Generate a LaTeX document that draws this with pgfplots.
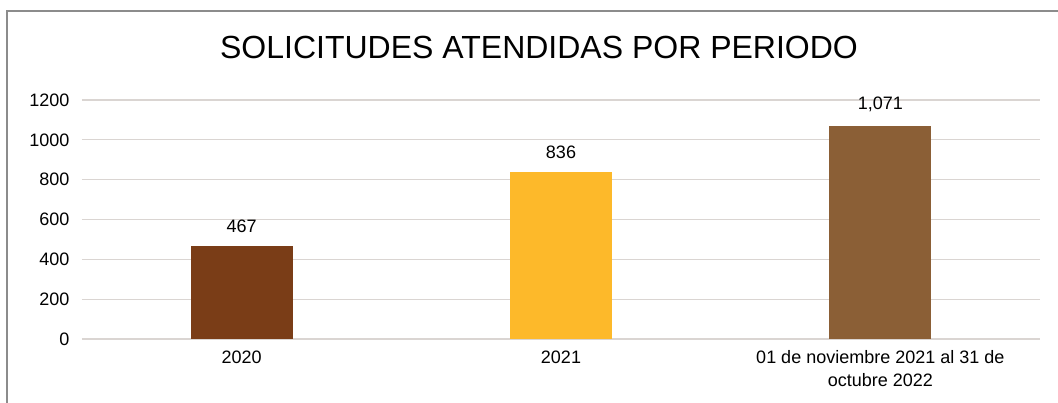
\documentclass[border=0pt]{standalone}
\usepackage{fontspec}
\setmainfont{Liberation Sans}
\usepackage{pgfplots}
\pgfplotsset{compat=1.18}
\definecolor{bara}{HTML}{7A3D17}
\definecolor{barb}{HTML}{FDB92A}
\definecolor{barc}{HTML}{8B5F36}
\definecolor{gridc}{HTML}{DAD5D2}
\definecolor{framec}{HTML}{8C8C8C}
\begin{document}
\begin{tikzpicture}
\useasboundingbox (-82pt,-64pt) rectangle (976pt,339pt);
\begin{axis}[
  scale only axis,
  width=958pt, height=239pt,
  ybar, bar width=102pt, bar shift=0pt,
  xmin=-0.5, xmax=2.5,
  ymin=0, ymax=1200,
  ytick={0,200,...,1200},
  xtick={0,1,2},
  xticklabels={2020,2021,{01 de noviembre 2021 al 31 de\\octubre 2022}},
  x tick label style={align=center, font=\fontsize{18}{23}\selectfont, yshift=-8pt},
  y tick label style={font=\fontsize{18}{21}\selectfont, xshift=-9pt,
    /pgf/number format/1000 sep={}},
  /pgf/number format/assume math mode=true,
  axis line style={draw=none},
  major tick length=0pt,
  ymajorgrids, grid style={gridc, line width=1.3pt},
  nodes near coords,
  nodes near coords style={font=\fontsize{18}{21}\selectfont, text=black, yshift=10pt,
    /pgf/number format/.cd, 1000 sep={,}, assume math mode=true},
  clip=false,
]
\addplot[fill=bara, draw=none] coordinates {(0,467)};
\addplot[fill=barb, draw=none] coordinates {(1,836)};
\addplot[fill=barc, draw=none] coordinates {(2,1071)};
\end{axis}
\draw[framec, line width=1.5pt] (-75pt,-64pt) -- (-75pt,328pt) -- (976pt,328pt);
\node[font=\fontsize{32}{38}\selectfont] at (457pt,292pt) {SOLICITUDES ATENDIDAS POR PERIODO};
\end{tikzpicture}
\end{document}
